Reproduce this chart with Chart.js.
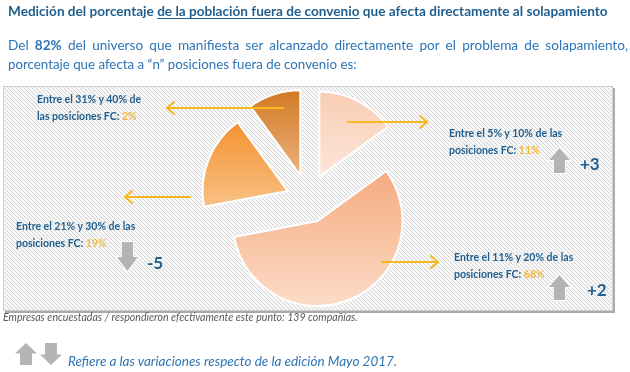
<!DOCTYPE html>
<html>
<head>
<meta charset="utf-8">
<script src="https://cdn.jsdelivr.net/npm/chart.js@4/dist/chart.umd.min.js"></script>
<style>
  html, body { margin: 0; padding: 0; background: #fff; }
  body { width: 630px; height: 372px; position: relative; overflow: hidden; font-family: Lato, "Open Sans", sans-serif; }
  #pie { position: absolute; left: 0; top: 0; }
  .t { position: absolute; white-space: nowrap; }
  #title { left: 8px; top: 3px; font-size: 13.6px; font-weight: bold; color: #1f5f8f; }
  #title u { text-underline-offset: 2px; }
  #p1 { left: 8px; top: 37px; width: 620px; font-size: 13.6px; color: #2e75b6; text-align: justify; text-align-last: justify; }
  #p2 { left: 8px; top: 56px; font-size: 13.3px; color: #2e75b6; }
  .lab { position: absolute; white-space: nowrap; font-size: 10.5px; font-weight: bold; color: #1f5f8f; line-height: 17px; }
  .lab span { color: #f7b53c; }
  .chg { position: absolute; font-size: 17px; font-weight: bold; color: #1f5f8f; line-height: 20px; }
  #foot { left: 3px; top: 311px; font-size: 10.6px; font-style: italic; color: #595959; }
  #ref { left: 68px; top: 353px; font-size: 13.5px; font-style: italic; color: #2e75b6; }
</style>
</head>
<body>
<canvas id="pie" width="630" height="372"></canvas>
<div class="t" id="title">Medición del porcentaje <u>de la población fuera de convenio</u> que afecta directamente al solapamiento</div>
<div class="t" id="p1">Del <b>82%</b> del universo que manifiesta ser alcanzado directamente por el problema de solapamiento,</div>
<div class="t" id="p2">porcentaje que afecta a “n” posiciones fuera de convenio es:</div>
<div class="t" id="foot">Empresas encuestadas / respondieron efectivamente este punto: 139 compañías.</div>
<div class="t" id="ref">Refiere a las variaciones respecto de la edición Mayo 2017.</div>
<script>
// slices in drawing order, clockwise from 12 o'clock
const rangeLine1 = ['Entre el 5% y 10% de las', 'Entre el 11% y 20% de las', 'Entre el 21% y 30% de las', 'Entre el 31% y 40% de'];
const rangeLine2 = ['posiciones FC:', 'posiciones FC:', 'posiciones FC:', 'las posiciones FC:'];
const shareLabel = [11, 68, 19, 2];          // % written next to each slice
const shareDrawn = [15, 57, 18, 10];         // slice sizes as drawn in the picture (not to scale)
const variation = ['+3', '+2', '-5', ''];    // change vs. May 2017 edition

const sliceTop    = ['#f9cdb3', '#f5ab7f', '#f39231', '#d27a24'];
const sliceBottom = ['#fde6da', '#fcdcc8', '#f9c184', '#ebb27d'];
const RADIUS = 85;
const SHIFT = [25, 24, 22, 25];   // how far each slice is pulled out, px

// label / annotation layout (page pixels)
const labelPos = [[449, 125], [454, 249], [16, 218], [37, 91]];
const chgPos   = [[580, 154], [587, 280], [147, 253], null];
const blockArrows = [
  { x: 549, y: 148, w: 21, h: 25, up: true },
  { x: 549, y: 275, w: 21, h: 25, up: true },
  { x: 117, y: 242, w: 21, h: 29, up: false },
  { x: 15, y: 343, w: 22, h: 22, up: true },
  { x: 40, y: 343, w: 22, h: 22, up: false }
];
const pointers = [
  { x1: 348, x2: 427, y: 122 },
  { x1: 382, x2: 438, y: 262 },
  { x1: 190, x2: 125, y: 197 },
  { x1: 283, x2: 167, y: 108 }
];
const BOX = { x: 3, y: 86, w: 610, h: 225 };

rangeLine1.forEach((txt, i) => {
  const d = document.createElement('div');
  d.className = 'lab';
  d.style.left = labelPos[i][0] + 'px';
  d.style.top = labelPos[i][1] + 'px';
  d.innerHTML = txt + '<br>' + rangeLine2[i] + ' <span>' + shareLabel[i] + '%</span>';
  document.body.appendChild(d);
  if (variation[i]) {
    const v = document.createElement('div');
    v.className = 'chg';
    v.style.left = chgPos[i][0] + 'px';
    v.style.top = chgPos[i][1] + 'px';
    v.textContent = variation[i];
    document.body.appendChild(v);
  }
});

const total = shareDrawn.reduce((a, b) => a + b, 0);
const angleOf = i => shareDrawn[i] / total * 2 * Math.PI;

function hatch(ctx) {
  const p = document.createElement('canvas');
  p.width = p.height = 4;
  const pc = p.getContext('2d');
  pc.fillStyle = '#f8f8f8';
  pc.fillRect(0, 0, 4, 4);
  pc.fillStyle = '#d3d3d3';
  for (let i = 0; i < 4; i++) pc.fillRect(i, i, 1, 1);
  return ctx.createPattern(p, 'repeat');
}

// vertical gradient over the slice's own height (drawn before the pull-out shift)
function sliceGradient(context) {
  const chart = context.chart;
  const area = chart.chartArea;
  const i = context.dataIndex;
  if (!area) return sliceTop[i];
  let start = -Math.PI / 2;
  for (let k = 0; k < i; k++) start += angleOf(k);
  const end = start + angleOf(i);
  const cy = (area.top + area.bottom) / 2;
  let y0 = cy, y1 = cy;
  for (let t = 0; t <= 30; t++) {
    const y = cy + Math.sin(start + (end - start) * t / 30) * RADIUS;
    y0 = Math.min(y0, y); y1 = Math.max(y1, y);
  }
  const g = chart.ctx.createLinearGradient(0, y0, 0, y1);
  g.addColorStop(0, sliceTop[i]);
  g.addColorStop(1, sliceBottom[i]);
  return g;
}

function blockArrow(c, a) {
  const hw = a.w * 0.27, head = a.h * 0.48, cx = a.x + a.w / 2;
  c.beginPath();
  if (a.up) {
    c.moveTo(cx, a.y);
    c.lineTo(a.x + a.w, a.y + head);
    c.lineTo(cx + hw, a.y + head);
    c.lineTo(cx + hw, a.y + a.h);
    c.lineTo(cx - hw, a.y + a.h);
    c.lineTo(cx - hw, a.y + head);
    c.lineTo(a.x, a.y + head);
  } else {
    c.moveTo(cx, a.y + a.h);
    c.lineTo(a.x + a.w, a.y + a.h - head);
    c.lineTo(cx + hw, a.y + a.h - head);
    c.lineTo(cx + hw, a.y);
    c.lineTo(cx - hw, a.y);
    c.lineTo(cx - hw, a.y + a.h - head);
    c.lineTo(a.x, a.y + a.h - head);
  }
  c.closePath();
  c.lineWidth = 2;
  c.strokeStyle = '#ffffff';
  c.stroke();
  c.fillStyle = '#b4b4b4';
  c.fill();
}

const decor = {
  id: 'decor',
  beforeDatasetsDraw(chart) {
    const c = chart.ctx;
    c.save();
    c.fillStyle = '#a9a9a9';
    c.fillRect(BOX.x + 2, BOX.y + 2, BOX.w, BOX.h);
    c.fillStyle = hatch(c);
    c.fillRect(BOX.x, BOX.y, BOX.w, BOX.h);
    c.strokeStyle = '#cfcfcf';
    c.lineWidth = 1;
    c.strokeRect(BOX.x + 0.5, BOX.y + 0.5, BOX.w - 1, BOX.h - 1);
    c.restore();
  },
  // exploded pie: each arc is drawn by chart.js, just moved out along its mid angle
  beforeDatasetDraw(chart, args) {
    const c = chart.ctx;
    args.meta.data.forEach((arc, i) => {
      const mid = (arc.startAngle + arc.endAngle) / 2;
      c.save();
      c.translate(Math.cos(mid) * SHIFT[i], Math.sin(mid) * SHIFT[i]);
      arc.draw(c);
      c.restore();
    });
    return false;
  },
  afterDatasetsDraw(chart) {
    const c = chart.ctx;
    c.save();
    c.strokeStyle = '#f6b81c';
    c.lineWidth = 2;
    c.lineCap = 'round';
    pointers.forEach(p => {
      const dir = p.x2 > p.x1 ? 1 : -1;
      c.beginPath();
      c.moveTo(p.x1, p.y);
      c.lineTo(p.x2, p.y);
      c.moveTo(p.x2 - dir * 7, p.y - 6);
      c.lineTo(p.x2, p.y);
      c.lineTo(p.x2 - dir * 7, p.y + 6);
      c.stroke();
    });
    blockArrows.forEach(a => blockArrow(c, a));
    c.restore();
  }
};

new Chart(document.getElementById('pie'), {
  type: 'pie',
  data: {
    labels: rangeLine1,
    datasets: [{
      data: shareDrawn,
      backgroundColor: sliceGradient,
      borderColor: '#ffffff',
      borderWidth: 2,
      clip: false
    }]
  },
  options: {
    responsive: false,
    animation: false,
    events: [],
    radius: RADIUS,
    layout: { padding: { left: 0, right: 14, top: 26, bottom: 0 } },
    plugins: { legend: { display: false }, tooltip: { enabled: false } }
  },
  plugins: [decor]
});
</script>
</body>
</html>
